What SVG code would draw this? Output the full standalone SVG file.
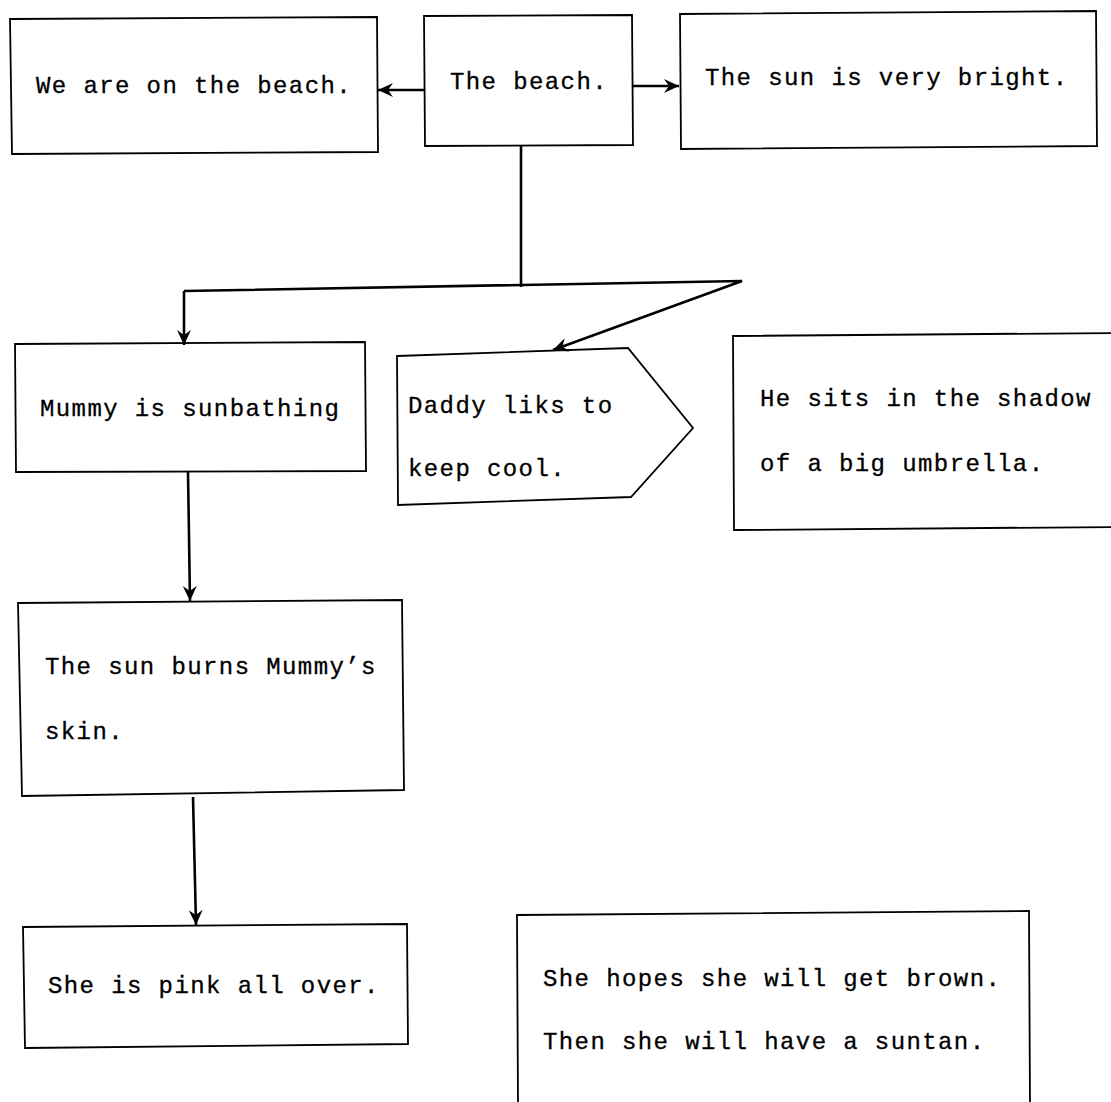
<svg xmlns="http://www.w3.org/2000/svg" width="1111" height="1102" viewBox="0 0 1111 1102">
<style>
.box{fill:none;stroke:#000;stroke-width:1.8}
.t{font-family:"Liberation Mono","DejaVu Sans Mono",monospace;font-size:24px;letter-spacing:1.4px;fill:#000;stroke:#000;stroke-width:0.3}
.c{fill:none;stroke:#000;stroke-width:2.6}
</style>
<defs>
<marker id="ah" markerWidth="18" markerHeight="14" refX="15" refY="7" orient="auto" markerUnits="userSpaceOnUse">
<path d="M0,0 L15,7 L0,14 L5,7 Z" fill="#000"/>
</marker>
</defs>
<rect width="1111" height="1102" fill="#fff"/>
<g id="n1"><path class="box" d="M10,19 L377,17 L378,152 L12,154 Z"/><text class="t" x="36" y="93">We are on the beach.</text></g>
<g id="n2"><path class="box" d="M424,16 L632,15 L633,145 L425,146 Z"/><text class="t" x="450" y="89">The beach.</text></g>
<g id="n3"><path class="box" d="M680,14 L1096,11 L1097,146 L681,149 Z"/><text class="t" x="705" y="85">The sun is very bright.</text></g>
<g id="n4"><path class="box" d="M15,344 L365,342 L366,471 L16,472 Z"/><text class="t" x="40" y="416">Mummy is sunbathing</text></g>
<g id="n5"><path class="box" d="M397,356 L628,348 L693,428 L631,497 L398,505 Z"/><text class="t" x="408" y="413">Daddy liks to</text><text class="t" x="408" y="476">keep cool.</text></g>
<g id="n6"><path class="box" d="M1115,333 L733,336 L734,530 L1115,527"/><text class="t" x="760" y="406">He sits in the shadow</text><text class="t" x="760" y="471">of a big umbrella.</text></g>
<g id="n7"><path class="box" d="M18,603 L402,600 L404,790 L22,796 Z"/><text class="t" x="45" y="674">The sun burns Mummy’s</text><text class="t" x="45" y="739">skin.</text></g>
<g id="n8"><path class="box" d="M23,927 L407,924 L408,1044 L25,1048 Z"/><text class="t" x="48" y="993">She is pink all over.</text></g>
<g id="n9"><path class="box" d="M518,1106 L517,915 L1029,911 L1030,1106"/><text class="t" x="543" y="986">She hopes she will get brown.</text><text class="t" x="543" y="1049">Then she will have a suntan.</text></g>
<g id="connectors">
<path class="c" d="M424,90 L378,90" marker-end="url(#ah)"/>
<path class="c" d="M633,86 L679,86" marker-end="url(#ah)"/>
<path class="c" d="M521,146 L521,287"/>
<path class="c" d="M184,291 L742,281 L553,350" marker-end="url(#ah)"/>
<path class="c" d="M184,291 L184,345" marker-end="url(#ah)"/>
<path class="c" d="M188,472 L190,601" marker-end="url(#ah)"/>
<path class="c" d="M193,797 L196,925" marker-end="url(#ah)"/>
</g>
</svg>
